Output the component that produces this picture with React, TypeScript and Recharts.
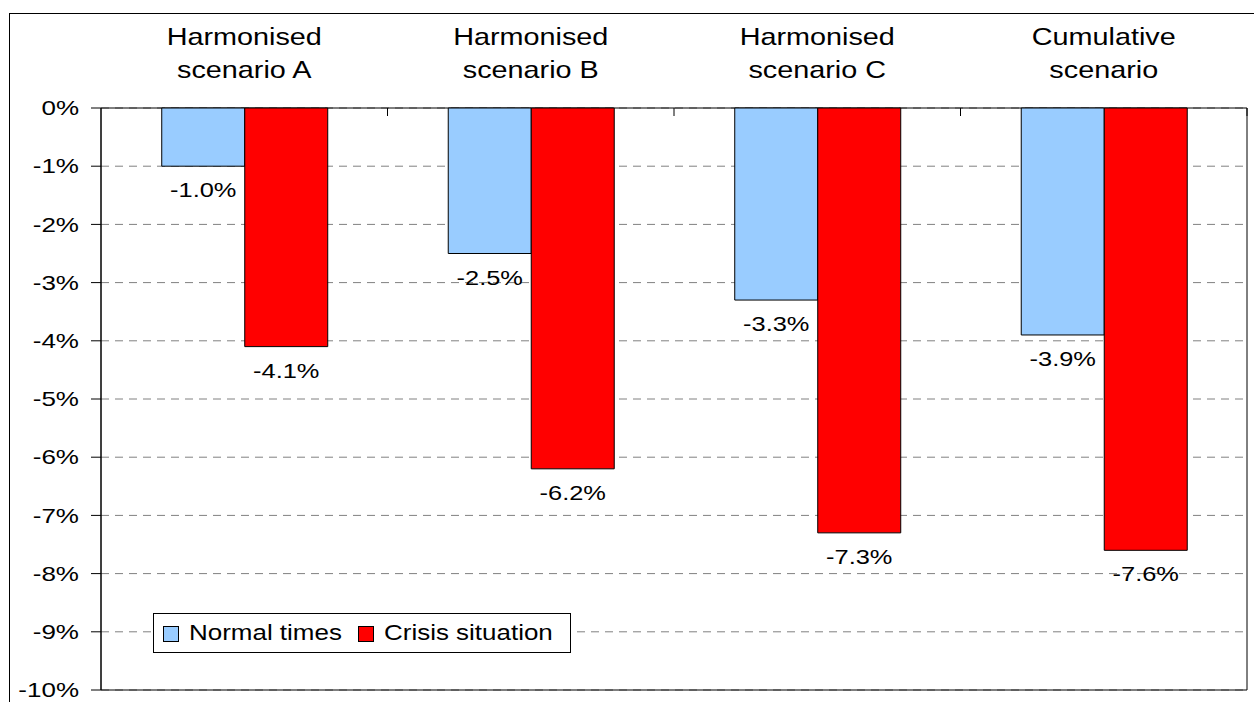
import React from "react";
import {
  BarChart,
  Bar,
  XAxis,
  YAxis,
  CartesianGrid,
  Legend,
  LabelList,
  ReferenceArea,
} from "recharts";

// values (percent change)
const categories = [
  "Harmonised scenario A",
  "Harmonised scenario B",
  "Harmonised scenario C",
  "Cumulative scenario",
];
const normalTimes = [-1.0, -2.5, -3.3, -3.9];
const crisisSituation = [-4.1, -6.2, -7.3, -7.6];
const yTicks = [0, -1, -2, -3, -4, -5, -6, -7, -8, -9, -10];

const data = categories.map((name, i) => ({
  name,
  normal: normalTimes[i],
  crisis: crisisSituation[i],
}));

const FONT = '"Liberation Sans", Arial, sans-serif';
const NORMAL_COLOR = "#99CCFF";
const CRISIS_COLOR = "#FF0000";
const seriesOrder = ["normal", "crisis"];
const seriesColors: Record<string, string> = {
  normal: NORMAL_COLOR,
  crisis: CRISIS_COLOR,
};
const legendTextWidths: Record<string, number> = { normal: 153, crisis: 176 };

function CategoryTick({ x, y, payload }: any) {
  const text = String(payload.value);
  const cut = text.indexOf(" ");
  const lines = [text.slice(0, cut), text.slice(cut + 1)];
  const half = payload.offset ?? 0;
  return (
    <g>
      <line x1={x + half} x2={x + half} y1={y} y2={y + 8} stroke="#000" />
      {lines.map((line, i) => (
        <g key={i} transform={`translate(${x},${y - 63 + i * 33}) scale(1.2,1)`}>
          <text x={0} y={0} textAnchor="middle" fontSize={24} fontFamily={FONT} fill="#000">
            {line}
          </text>
        </g>
      ))}
    </g>
  );
}

function ValueTick({ x, y, payload }: any) {
  return (
    <g transform={`translate(${x},${y}) scale(1.3,1)`}>
      <text x={0} y={0} dy="0.36em" textAnchor="end" fontSize={20} fontFamily={FONT} fill="#000">
        {`${payload.value}%`}
      </text>
    </g>
  );
}

function BarValueLabel(props: any) {
  const { x, y, width, height, value } = props;
  const bottom = Math.max(Number(y), Number(y) + Number(height));
  const cx = Number(x) + Number(width) / 2;
  return (
    <g transform={`translate(${cx},${bottom + 31}) scale(1.27,1)`}>
      <text x={0} y={0} textAnchor="middle" fontSize={20} fontFamily={FONT} fill="#000">
        {`${Number(value).toFixed(1)}%`}
      </text>
    </g>
  );
}

function LegendBox({ payload }: any) {
  const items = [...(payload || [])].sort(
    (a: any, b: any) => seriesOrder.indexOf(a.dataKey) - seriesOrder.indexOf(b.dataKey)
  );
  return (
    <div
      style={{
        boxSizing: "border-box",
        height: 40,
        border: "1px solid #000",
        background: "#fff",
        display: "flex",
        alignItems: "center",
        paddingLeft: 9,
        paddingRight: 10,
        fontFamily: FONT,
        fontSize: 22,
        color: "#000",
      }}
    >
      {items.map((entry: any, i: number) => (
        <div
          key={entry.value}
          style={{ display: "flex", alignItems: "center", marginLeft: i ? 16 : 0 }}
        >
          <span
            style={{
              display: "inline-block",
              boxSizing: "border-box",
              width: 16,
              height: 16,
              border: "1px solid #000",
              background: seriesColors[entry.dataKey],
              marginRight: 10,
              marginTop: 2,
            }}
          />
          <span
            style={{
              display: "inline-block",
              width: legendTextWidths[entry.dataKey],
              whiteSpace: "nowrap",
            }}
          >
            <span
              style={{
                display: "inline-block",
                transform: "scaleX(1.18)",
                transformOrigin: "left center",
              }}
            >
              {entry.value}
            </span>
          </span>
        </div>
      ))}
    </div>
  );
}

export default function App() {
  return (
    <div
      style={{
        position: "absolute",
        left: 0,
        top: 0,
        width: 1254,
        height: 702,
        background: "#fff",
        overflow: "hidden",
      }}
    >
      <div
        style={{
          position: "absolute",
          left: 9,
          top: 13,
          right: 0,
          bottom: 0,
          borderTop: "1px solid #000",
          borderLeft: "1px solid #000",
        }}
      />
      <div style={{ position: "absolute", left: 0, top: 0 }}>
        <BarChart
          width={1254}
          height={702}
          data={data}
          margin={{ top: 0, right: 7, bottom: 12, left: 0 }}
          barCategoryGap="21.2%"
          barGap={0}
        >
          <CartesianGrid vertical={false} stroke="#808080" strokeDasharray="8 6" />
          <XAxis
            dataKey="name"
            orientation="top"
            height={108}
            axisLine={false}
            tickLine={false}
            tickSize={0}
            tickMargin={0}
            interval={0}
            tick={<CategoryTick />}
          />
          <YAxis
            type="number"
            domain={[-10, 0]}
            ticks={yTicks}
            interval={0}
            width={101}
            tickSize={10}
            tickMargin={12}
            axisLine={{ stroke: "#000" }}
            tickLine={{ stroke: "#000" }}
            tick={<ValueTick />}
          />
          <Legend
            layout="horizontal"
            verticalAlign="middle"
            align="center"
            wrapperStyle={{ left: 153, top: 613, width: "auto" }}
            content={<LegendBox />}
          />
          <Bar
            dataKey="normal"
            name="Normal times"
            fill={NORMAL_COLOR}
            stroke="#000"
            strokeWidth={1}
            isAnimationActive={false}
          >
            <LabelList dataKey="normal" content={<BarValueLabel />} />
          </Bar>
          <Bar
            dataKey="crisis"
            name="Crisis situation"
            fill={CRISIS_COLOR}
            stroke="#000"
            strokeWidth={1}
            isAnimationActive={false}
          >
            <LabelList dataKey="crisis" content={<BarValueLabel />} />
          </Bar>
          <ReferenceArea y1={-10} y2={0} fill="none" stroke="#000" strokeWidth={1} />
        </BarChart>
      </div>
    </div>
  );
}
